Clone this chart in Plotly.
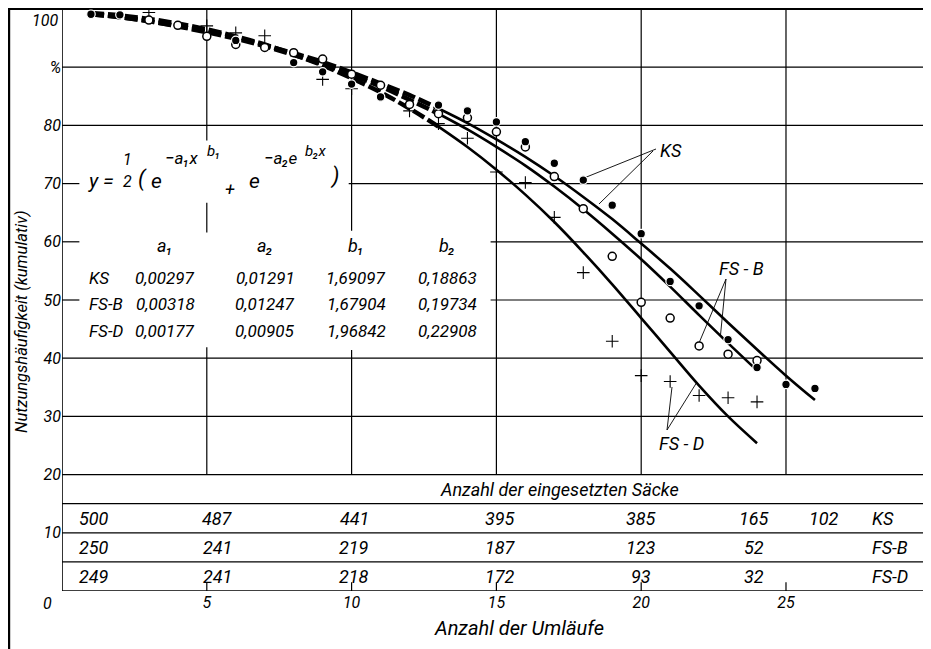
import plotly.graph_objects as go

# ------------------------------------------------------------------ data
# measured points (Nutzungshaeufigkeit in %, kumulativ) vs. Anzahl der Umlaeufe
x_ks = [1, 2, 6, 8, 9, 10, 11, 13, 14, 15, 16, 17, 18, 19, 20, 21, 22, 23, 24, 25, 26]
y_ks = [99.1, 99.0, 94.6, 90.8, 89.2, 87.1, 84.9, 83.5, 82.5, 80.6, 77.2, 73.5, 70.6,
        66.3, 61.4, 53.2, 49.0, 43.2, 38.4, 35.5, 34.8]
x_fsb = [3, 4, 5, 6, 7, 8, 9, 10, 11, 12, 13, 14, 15, 16, 17, 18, 19, 20, 21, 22, 23, 24]
y_fsb = [98.1, 97.2, 95.3, 93.9, 93.4, 92.5, 91.4, 88.8, 86.9, 83.6, 82.0, 81.3, 78.9,
         76.3, 71.2, 65.7, 57.5, 49.6, 46.9, 42.1, 40.7, 39.6]
x_fsd = [3, 5, 6, 7, 9, 10, 12, 13, 14, 15, 16, 17, 18, 19, 20, 21, 22, 23, 24]
y_fsd = [99.4, 97.1, 95.9, 95.4, 87.9, 86.3, 82.5, 80.3, 77.8, 72.0, 70.2, 64.2, 54.7,
         42.9, 37.0, 36.0, 33.6, 33.2, 32.5]

# fitted curves
cx_ks = list(range(1, 27))
cy_ks = [99.1, 98.6, 97.9, 97.1, 96.2, 95.1, 93.8, 92.4, 90.9, 89.1, 87.2, 85.2, 82.9,
         80.4, 77.6, 74.6, 71.3, 67.7, 63.9, 59.7, 55.4, 50.8, 46.1, 41.5, 37.0, 32.8]
cx_fsb = list(range(1, 25))
cy_fsb = [99.1, 98.6, 97.9, 97.0, 96.0, 94.9, 93.6, 92.1, 90.5, 88.7, 86.7, 84.4, 82.0,
          79.3, 76.3, 73.1, 69.5, 65.6, 61.4, 57.0, 52.3, 47.4, 42.6, 37.9]
cx_fsd = list(range(1, 25))
cy_fsd = [99.3, 98.9, 98.3, 97.5, 96.5, 95.3, 93.9, 92.2, 90.3, 88.1, 85.7, 82.9, 79.8,
          76.3, 72.4, 68.1, 63.4, 58.2, 52.7, 46.9, 41.1, 35.3, 30.0, 25.4]

# parameter table
param_series = ["KS", "FS-B", "FS-D"]
param_heads = ["a₁", "a₂", "b₁", "b₂"]
a1 = [0.00297, 0.00318, 0.00177]
a2 = [0.01291, 0.01247, 0.00905]
b1 = [1.69097, 1.67904, 1.96842]
b2 = [0.18863, 0.19734, 0.22908]

# Anzahl der eingesetzten Saecke
sack_series = ["KS", "FS-B", "FS-D"]
sacks_ks = [500, 487, 441, 395, 385, 165, 102]
sacks_fsb = [250, 241, 219, 187, 123, 52]
sacks_fsd = [249, 241, 218, 172, 93, 32]

x_tick_vals = [5, 10, 15, 20, 25]
x_tick_text = ["5", "10", "15", "20", "25"]
y_tick_vals = [10, 20, 30, 40, 50, 60, 70, 80, 90]
y_tick_text = ["10", "20", "30", "40", "50", "60", "70", "80", "%"]

# ------------------------------------------------------------------ layout helpers
# page coordinates (the html body adds an 8px offset)
OFF = 8
XMAX = 29.8
W, H = 931, 649
PL, PR, PT, PB = 62, 925, 9, 591          # plot area in page pixels
PW, PH = PR - PL, PB - PT
L, T = PL - OFF, PT - OFF
R = W - (L + PW)
B = H - (T + PH)


def X(px):
    return (px - PL) / PW * XMAX


def Y(py):
    return (PB - py) / PH * 100


def PX(px):
    return (px - PL) / PW


def PY(py):
    return (PB - py) / PH


FONT = "Roboto"
shapes = []


def seg(x0, y0, x1, y1, w=1.2, xref="x", yref="y"):
    shapes.append(dict(type="line", x0=x0, y0=y0, x1=x1, y1=y1, xref=xref, yref=yref,
                       line=dict(color="black", width=w), layer="below"))


# grid
for yv in [90, 80, 40, 30, 20, 15, 10, 5]:
    seg(0, yv, XMAX, yv)
seg(0, 0, XMAX, 0, 1.6)
seg(0, 70, 0.6, 70); seg(9.9, 70, XMAX, 70)
for yv in [60, 50]:
    seg(0, yv, 0.6, yv); seg(14.8, yv, XMAX, yv)
seg(5, 77.4, 5, 100); seg(5, 61.6, 5, 66.7); seg(5, 20, 5, 41.9)
seg(10, 61.9, 10, 100); seg(10, 20, 10, 41.4)
for xv in [15, 20, 25]:
    seg(xv, 20, xv, 100)
for xv in x_tick_vals:
    seg(xv, 0, xv, 1.5)
seg(0, 0, 0, 100, 1.6)
# outer frame
seg(PX(8), 1, 1, 1, 2.2, "paper", "paper")
seg(1, PY(660), 1, 1, 1.8, "paper", "paper")
seg(PX(9), PY(660), PX(9), 1, 2.4, "paper", "paper")

# leader lines
seg(X(656), Y(149), X(584), Y(178), 0.9)
seg(X(653), Y(151), X(599), Y(204), 0.9)
seg(X(726), Y(279), X(699), Y(343), 0.9)
seg(X(726), Y(279), X(720.5), Y(335), 0.9)
seg(X(667), Y(430), X(672), Y(387), 0.9)
seg(X(667), Y(430), X(697), Y(382), 0.9)

fig = go.Figure()

# curves: upper (overlapping) part heavy & dashed, lower part solid
SPLIT = 12
for cx, cy, name in [(cx_ks, cy_ks, "KS"), (cx_fsb, cy_fsb, "FS-B"), (cx_fsd, cy_fsd, "FS-D")]:
    fig.add_trace(go.Scatter(x=cx[:SPLIT + 1], y=cy[:SPLIT + 1], mode="lines", name=name,
                             line=dict(color="black", width=4.5, dash="13px,4px", shape="spline"),
                             hoverinfo="skip"))
    fig.add_trace(go.Scatter(x=cx[SPLIT:], y=cy[SPLIT:], mode="lines", name=name,
                             line=dict(color="black", width=2.6, shape="spline"),
                             hoverinfo="skip"))

fig.add_trace(go.Scatter(x=x_fsd, y=y_fsd, mode="markers", name="FS-D",
                         marker=dict(symbol="cross-thin", size=9, color="black",
                                     line=dict(color="black", width=1.1))))
fig.add_trace(go.Scatter(x=x_fsb, y=y_fsb, mode="markers", name="FS-B",
                         marker=dict(symbol="circle", size=8, color="white",
                                     line=dict(color="black", width=1.5))))
fig.add_trace(go.Scatter(x=x_ks, y=y_ks, mode="markers", name="KS",
                         marker=dict(symbol="circle", size=8.5, color="black",
                                     line=dict(color="white", width=1.2))))

ann = []


def txt(x, y, s, size=16, xanchor="center", xref="x", yref="y", angle=0):
    ann.append(dict(x=x, y=y, text=s, xref=xref, yref=yref, showarrow=False,
                    xanchor=xanchor, yanchor="middle", textangle=angle,
                    font=dict(family=FONT, size=size, color="black", style="italic")))


# formula  y = 1/2 ( e^(-a1 x^b1) + e^(-a2 e^(b2 x)) )
txt(X(86), Y(181), "y =", 20, "left")
txt(X(127), Y(159), "1", 16)
txt(X(127), Y(181), "2", 16)
txt(X(142), Y(179), "(", 22)
txt(X(156), Y(181), "e", 21)
txt(X(163), Y(158), "−a₁x", 17, "left")
txt(X(205), Y(151), "b₁", 15, "left")
txt(X(230), Y(188), "+", 18)
txt(X(254), Y(181), "e", 21)
txt(X(262), Y(158), "−a₂e", 17, "left")
txt(X(303), Y(151), "b₂x", 15, "left")
txt(X(334), Y(176), ")", 22)

# parameter table
col_px = [165, 265, 356, 447]
for cpx, h in zip(col_px, param_heads):
    txt(X(cpx), Y(245), h, 18)
row_py = [278, 304, 331]
for i, s in enumerate(param_series):
    txt(X(87), Y(row_py[i]), s, 17, "left")
    for cpx, vals in zip(col_px, [a1, a2, b1, b2]):
        txt(X(cpx), Y(row_py[i]), f"{vals[i]:.5f}".replace(".", ","), 17)

# sack table
txt(X(438), 17.5, "Anzahl der eingesetzten Säcke", 18, "left")
sack_cols = [94, 217, 354, 500, 641, 754, 824]
for yrow, vals, lab in [(12.4, sacks_ks, sack_series[0]), (7.5, sacks_fsb, sack_series[1]),
                        (2.5, sacks_fsd, sack_series[2])]:
    for cpx, v in zip(sack_cols, vals):
        txt(X(cpx), yrow, str(v), 18)
    txt(X(870), yrow, lab, 18, "left")

# series labels
txt(X(671), Y(150), "KS", 18)
txt(X(741), Y(268), "FS - B", 18)
txt(X(681), Y(443), "FS - D", 18)

# axis extras
txt(PX(60), PY(20), "100", 16, "right", "paper", "paper")
txt(PX(47), PY(603), "0", 16, "center", "paper", "paper")
txt(X(432), PY(628), "Anzahl der Umläufe", 20, "left", "x", "paper")
txt(PX(21), PY(322), "Nutzungshäufigkeit (kumulativ)", 16.5, "center", "paper", "paper", -90)

fig.update_layout(
    width=W, height=H, margin=dict(l=L, r=R, t=T, b=B),
    font=dict(family=FONT, size=16, color="black"),
    plot_bgcolor="white", paper_bgcolor="white", showlegend=False,
    shapes=shapes, annotations=ann,
    xaxis=dict(range=[0, XMAX], showgrid=False, zeroline=False, showline=False,
               tickvals=x_tick_vals, ticktext=x_tick_text, ticks="",
               tickfont=dict(family=FONT, size=16, color="black", style="italic")),
    yaxis=dict(range=[0, 100], showgrid=False, zeroline=False, showline=False,
               tickvals=y_tick_vals, ticktext=y_tick_text, ticks="",
               tickfont=dict(family=FONT, size=16, color="black", style="italic")),
)

fig.write_html("out.html")
